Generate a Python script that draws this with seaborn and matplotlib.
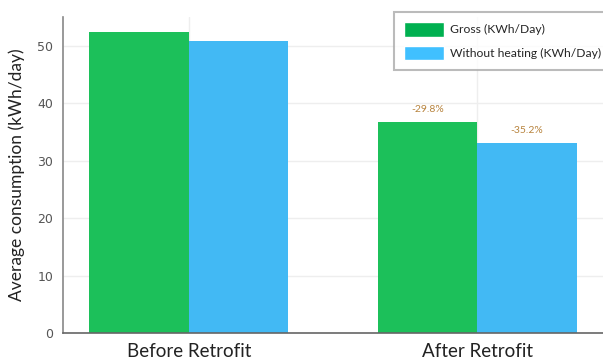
import matplotlib
matplotlib.use("Agg")
import matplotlib.pyplot as plt
import seaborn as sns
import pandas as pd
from matplotlib.patches import Patch

categories = ["Before Retrofit", "After Retrofit"]
series = ["Gross (KWh/Day)", "Without heating (KWh/Day)"]
gross = [52.4, 36.8]
without_heating = [50.9, 33.0]
change_labels = ["-29.8%", "-35.2%"]
yticks = [0, 10, 20, 30, 40, 50]

df = pd.DataFrame({
    "category": categories * 2,
    "series": [series[0]] * 2 + [series[1]] * 2,
    "value": gross + without_heating,
})

sns.set_style("white")
plt.rcParams['font.family'] = ['Lato', 'DejaVu Sans']

fig = plt.figure(figsize=(6.03, 3.61), dpi=100)
ax = fig.add_axes([0.1045, 0.0776, 0.8955, 0.875])

palette = {series[0]: "#1cc05a", series[1]: "#42b9f4"}
sns.barplot(data=df, x="category", y="value", hue="series", palette=palette,
            width=0.69, gap=0, saturation=1, ax=ax, legend=False, linewidth=0)

ax.set_ylim(0, 55)
ax.set_xlim(-0.436, 1.436)
ax.set_yticks(yticks)
ax.set_yticklabels([str(t) for t in yticks], family='DejaVu Sans', fontsize=9, color="#555555")
ax.tick_params(axis='y', length=4, width=1, color="#888888", pad=3)
ax.tick_params(axis='x', length=0, labelsize=13.5, pad=7, labelcolor="#222222")
ax.set_xlabel("")
ax.set_ylabel("Average consumption (kWh/day)", fontsize=12.5, color="#222222", labelpad=9)

ax.grid(True, color="#eeeeee", linewidth=1)
ax.set_axisbelow(True)
for s in ["top", "right"]:
    ax.spines[s].set_visible(False)
ax.spines["left"].set_color("#888888")
ax.spines["left"].set_linewidth(1.2)
ax.spines["bottom"].set_color("#666666")
ax.spines["bottom"].set_linewidth(1.2)

bw = 0.69 / 2
ax.text(1 - bw / 2, gross[1] + 2.2, change_labels[0], ha="center", va="center",
        fontsize=7.5, color="#b8843e")
ax.text(1 + bw / 2, without_heating[1] + 2.2, change_labels[1], ha="center", va="center",
        fontsize=7.5, color="#b8843e")

handles = [Patch(facecolor="#00b050", label=series[0]),
           Patch(facecolor="#40c0ff", label=series[1])]
leg = ax.legend(handles=handles, loc="upper right", bbox_to_anchor=(1.015, 1.016),
                borderaxespad=0, fontsize=8.7, frameon=True, fancybox=False,
                handlelength=3.3, handleheight=1.44, borderpad=0.85,
                labelspacing=0.76, handletextpad=0.5)
leg.get_frame().set_edgecolor("#aaaaaa")
leg.get_frame().set_linewidth(1.5)

fig.savefig("out.png", dpi=100)
